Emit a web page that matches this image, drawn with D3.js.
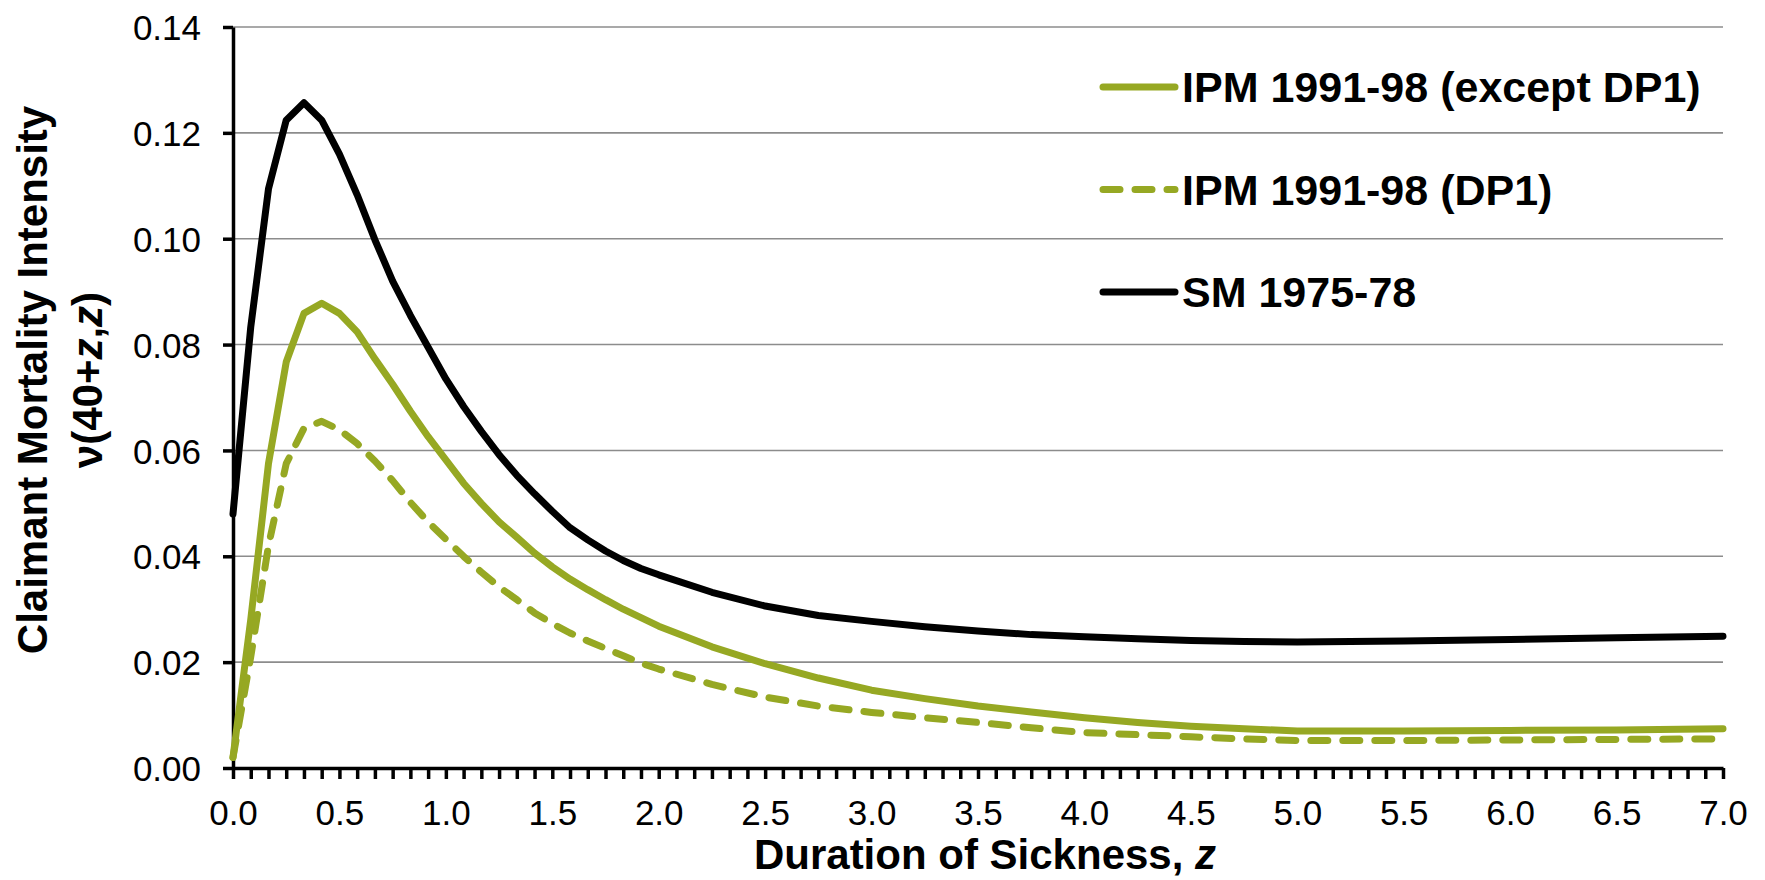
<!DOCTYPE html>
<html>
<head>
<meta charset="utf-8">
<script src="https://cdn.jsdelivr.net/npm/d3@7"></script>
<style>
  body { margin: 0; background: #fff; }
  svg { display: block; font-family: "Liberation Sans", Arial, sans-serif; }
</style>
</head>
<body>
<svg id="svg1" width="1765" height="880"></svg>
<script>
// duration of sickness, in months
var durationMonths = [0, 1, 2, 3, 4, 5, 6, 7, 8, 9, 10, 11, 12, 13, 14, 15, 16, 17, 18, 19, 20, 21, 22, 23, 24,
    27, 30, 33, 36, 39, 42, 45, 48, 51, 54, 57, 60, 66, 72, 78, 84];

var ipmExceptDP1 = [0.0020, 0.0280, 0.0575, 0.0767, 0.0859, 0.0878, 0.0859, 0.0824, 0.0773, 0.0725, 0.0674, 0.0626, 0.0582,
    0.0538, 0.0500, 0.0465, 0.0436, 0.0406, 0.0380, 0.0357, 0.0337, 0.0318, 0.0300, 0.0284, 0.0268,
    0.0229, 0.0197, 0.0170, 0.0147, 0.0131, 0.0117, 0.0106, 0.0095, 0.0086, 0.0079, 0.0074, 0.0070,
    0.0070, 0.0071, 0.0072, 0.0074];

var ipmDP1 = [0.0020, 0.0210, 0.0420, 0.0575, 0.0642, 0.0655, 0.0639, 0.0613, 0.0580, 0.0543, 0.0502, 0.0465, 0.0432,
    0.0400, 0.0370, 0.0342, 0.0318, 0.0293, 0.0273, 0.0255, 0.0240, 0.0226, 0.0212, 0.0198, 0.0187,
    0.0158, 0.0134, 0.0117, 0.0105, 0.0095, 0.0086, 0.0076, 0.0067, 0.0063, 0.0059, 0.0055, 0.0052,
    0.0052, 0.0053, 0.0054, 0.0055];

var sm7578 = [0.0480, 0.0833, 0.1094, 0.1224, 0.1257, 0.1224, 0.1160, 0.1083, 0.0998, 0.0920, 0.0855, 0.0795, 0.0735,
    0.0683, 0.0636, 0.0592, 0.0553, 0.0518, 0.0485, 0.0454, 0.0431, 0.0410, 0.0392, 0.0377, 0.0365,
    0.0332, 0.0306, 0.0288, 0.0277, 0.0267, 0.0259, 0.0252, 0.0248, 0.0244, 0.0241, 0.0239, 0.0238,
    0.0240, 0.0243, 0.0246, 0.0249];

var seriesNames = ['IPM 1991-98 (except DP1)', 'IPM 1991-98 (DP1)', 'SM 1975-78'];
var yTicks = [0, 0.02, 0.04, 0.06, 0.08, 0.10, 0.12, 0.14];

var green = '#96a823';
var series = [
    {name: seriesNames[0], values: ipmExceptDP1, color: green, dash: null},
    {name: seriesNames[1], values: ipmDP1, color: green, dash: '17,15'},
    {name: seriesNames[2], values: sm7578, color: '#000', dash: null}
];

var svg = d3.select('svg');

var x = d3.scaleLinear().domain([0, 7]).range([233, 1723]);
var y = d3.scaleLinear().domain([0, 0.14]).range([768, 27]);

// horizontal gridlines
svg.append('g')
    .selectAll('line')
    .data(yTicks.filter(function(d){ return d > 0; }))
    .enter()
    .append('line')
    .attr('x1', x(0))
    .attr('x2', x(7))
    .attr('y1', function(d){ return y(d); })
    .attr('y2', function(d){ return y(d); })
    .attr('stroke', '#8c8c8c')
    .attr('stroke-width', 1.6);

// x axis, a tick every month, label every half year
var monthTicks = d3.range(0, 85).map(function(m){ return m / 12; });
var xAxis = svg.append('g')
    .attr('transform', 'translate(0,' + y(0) + ')')
    .call(d3.axisBottom(x)
        .tickValues(monthTicks)
        .tickSize(11)
        .tickSizeOuter(0)
        .tickPadding(21)
        .tickFormat(function(d, i){ return i % 6 === 0 ? d3.format('.1f')(d) : ''; }));

// y axis
var yAxis = svg.append('g')
    .attr('transform', 'translate(' + x(0) + ',0)')
    .call(d3.axisLeft(y)
        .tickValues(yTicks)
        .tickSize(10)
        .tickSizeOuter(0)
        .tickPadding(22)
        .tickFormat(d3.format('.2f')));

[xAxis, yAxis].forEach(function(ax){
    ax.select('.domain').attr('stroke', '#000').attr('stroke-width', 3.5);
    ax.selectAll('.tick line').attr('stroke', '#000').attr('stroke-width', 3.5);
    ax.selectAll('.tick text')
        .attr('fill', '#000')
        .style('font-size', '35px')
        .style('font-family', '"Liberation Sans", Arial, sans-serif');
});
yAxis.selectAll('.tick text').attr('dy', '0.36em');

// the curves
var line = d3.line()
    .x(function(d){ return x(d.z); })
    .y(function(d){ return y(d.v); });

svg.append('g')
    .selectAll('path')
    .data(series)
    .enter()
    .append('path')
    .attr('d', function(s){
        return line(durationMonths.map(function(m, i){ return {z: m / 12, v: s.values[i]}; }));
    })
    .attr('fill', 'none')
    .attr('stroke', function(s){ return s.color; })
    .attr('stroke-width', 7)
    .attr('stroke-linejoin', 'round')
    .attr('stroke-linecap', 'round')
    .attr('stroke-dasharray', function(s){ return s.dash; });

// legend
var legend = svg.append('g')
    .selectAll('g')
    .data(series)
    .enter()
    .append('g')
    .attr('transform', function(d, i){ return 'translate(0,' + (87 + i * 102.5) + ')'; });

legend.append('line')
    .attr('x1', 1103)
    .attr('x2', 1175)
    .attr('stroke', function(s){ return s.color; })
    .attr('stroke-width', 7)
    .attr('stroke-linecap', 'round')
    .attr('stroke-dasharray', function(s){ return s.dash; });

legend.append('text')
    .attr('x', 1182)
    .attr('y', 15)
    .style('font-size', '43px')
    .style('font-weight', 'bold')
    .text(function(s){ return s.name; });

// axis titles
var xTitle = svg.append('text')
    .attr('x', 985)
    .attr('y', 869)
    .attr('text-anchor', 'middle')
    .style('font-size', '42px')
    .style('font-weight', 'bold');
xTitle.append('tspan').text('Duration of Sickness, ');
xTitle.append('tspan').style('font-style', 'italic').text('z');

var yTitle = svg.append('g')
    .attr('transform', 'translate(0,380) rotate(-90)')
    .style('font-size', '42px')
    .style('font-weight', 'bold')
    .attr('text-anchor', 'middle');

yTitle.append('text')
    .attr('x', 0)
    .attr('y', 47)
    .text('Claimant Mortality Intensity');

var yTitle2 = yTitle.append('text')
    .attr('x', 0)
    .attr('y', 102);
yTitle2.append('tspan').text('\u03bd(40+');
yTitle2.append('tspan').style('font-style', 'italic').text('z');
yTitle2.append('tspan').text(',');
yTitle2.append('tspan').style('font-style', 'italic').text('z');
yTitle2.append('tspan').text(')');
</script>
</body>
</html>
